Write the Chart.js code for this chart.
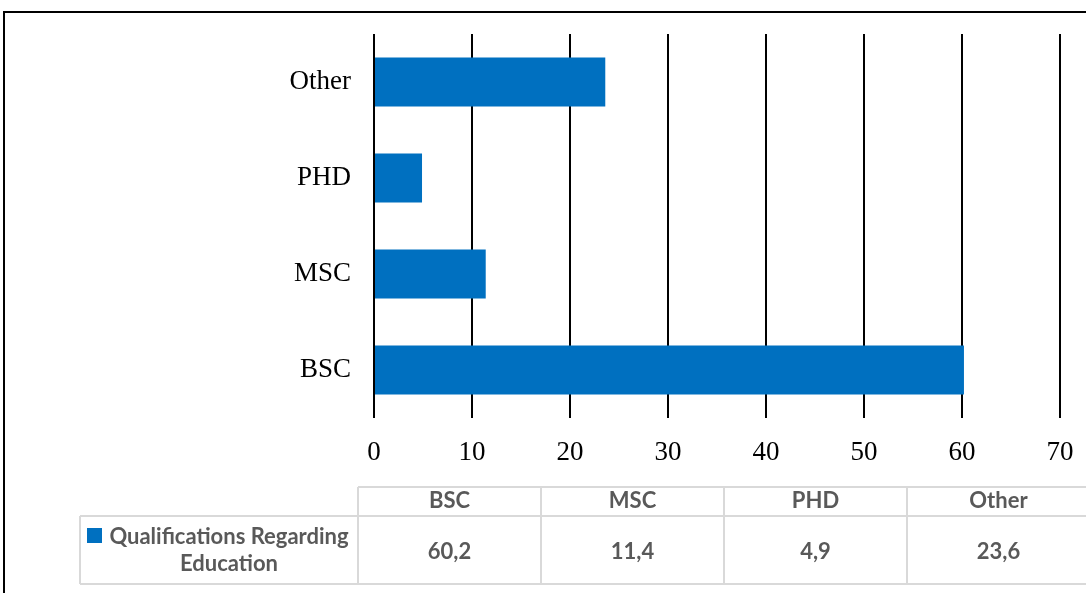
<!DOCTYPE html>
<html>
<head>
<meta charset="utf-8">
<script src="https://cdn.jsdelivr.net/npm/chart.js@4/dist/chart.umd.min.js"></script>
<style>
  html, body { margin: 0; padding: 0; background: #ffffff; }
  #wrap { width: 1086px; height: 593px; position: relative; }
</style>
</head>
<body>
<div id="wrap"><canvas id="chart" width="1086" height="593"></canvas></div>
<script>
// Education levels and their shares
const categories = ['BSC', 'MSC', 'PHD', 'Other'];
const qualificationValues = [60.2, 11.4, 4.9, 23.6];
const seriesName = 'Qualifications Regarding Education';
const seriesLegendLines = ['Qualifications Regarding', 'Education'];

// Value axis range
const axisMin = 0;
const axisMax = 70;
const axisStep = 10;

const barColor = '#0070C0';
const tableLine = '#d9d9d9';
const tableText = '#595959';

const formatValue = v => v.toFixed(1).replace('.', ',');

// Outer frame drawn behind the chart
const framePlugin = {
  id: 'frame',
  beforeDraw(chart) {
    const ctx = chart.ctx;
    ctx.save();
    ctx.fillStyle = '#ffffff';
    ctx.fillRect(0, 0, chart.width, chart.height);
    ctx.strokeStyle = '#000000';
    ctx.lineWidth = 2;
    ctx.beginPath();
    ctx.moveTo(chart.width, 12);
    ctx.lineTo(4, 12);
    ctx.lineTo(4, chart.height);
    ctx.stroke();
    ctx.restore();
  }
};

// Data table under the value axis
const dataTablePlugin = {
  id: 'dataTable',
  afterDraw(chart) {
    const ctx = chart.ctx;
    const ds = chart.data.datasets[0];
    const labels = chart.data.labels;
    const legendLeft = 80;
    const tableLeft = 358;
    const colW = 183;
    const headTop = 487;
    const rowTop = 516;
    const tableBottom = 584;
    const right = tableLeft + colW * labels.length;

    ctx.save();
    ctx.strokeStyle = tableLine;
    ctx.lineWidth = 2;
    ctx.beginPath();
    ctx.moveTo(tableLeft, headTop); ctx.lineTo(right, headTop);
    ctx.moveTo(legendLeft, rowTop); ctx.lineTo(right, rowTop);
    ctx.moveTo(legendLeft, tableBottom); ctx.lineTo(right, tableBottom);
    ctx.moveTo(legendLeft, rowTop); ctx.lineTo(legendLeft, tableBottom);
    for (let i = 0; i <= labels.length; i++) {
      const x = tableLeft + colW * i;
      ctx.moveTo(x, headTop); ctx.lineTo(x, tableBottom);
    }
    ctx.stroke();

    ctx.fillStyle = tableText;
    ctx.font = 'bold 22px Lato';
    ctx.textAlign = 'center';
    ctx.textBaseline = 'middle';
    labels.forEach((lab, i) => {
      const cx = tableLeft + colW * i + colW / 2;
      ctx.fillText(lab, cx, 501);
      ctx.fillText(formatValue(ds.data[i]), cx, 552);
    });

    // series key and name
    const textCx = 229;
    ctx.fillText(seriesLegendLines[0], textCx, 537);
    ctx.fillText(seriesLegendLines[1], textCx, 564);
    ctx.fillStyle = ds.backgroundColor;
    ctx.fillRect(87, 528, 15, 15);
    ctx.restore();
  }
};

new Chart(document.getElementById('chart'), {
  type: 'bar',
  data: {
    labels: categories,
    datasets: [{
      label: seriesName,
      data: qualificationValues,
      backgroundColor: barColor,
      borderWidth: 0,
      categoryPercentage: 0.51,
      barPercentage: 1
    }]
  },
  options: {
    indexAxis: 'y',
    responsive: false,
    animation: false,
    devicePixelRatio: 1,
    layout: { padding: { left: 0, top: 34, right: 26, bottom: 0 } },
    plugins: {
      legend: { display: false },
      tooltip: { enabled: false }
    },
    scales: {
      x: {
        min: axisMin,
        max: axisMax,
        ticks: {
          stepSize: axisStep,
          color: '#000000',
          font: { family: 'Liberation Serif', size: 27 },
          padding: 19
        },
        grid: { color: '#000000', lineWidth: 2, drawTicks: false },
        border: { display: false },
        afterFit(scale) {
          scale.height = 175;
          scale.paddingLeft = 0;
          scale.paddingRight = 0;
        }
      },
      y: {
        reverse: true,
        ticks: {
          color: '#000000',
          font: { family: 'Liberation Serif', size: 27 },
          padding: 23
        },
        grid: { display: false, drawTicks: false },
        border: { display: false },
        afterFit(scale) {
          scale.width = 374;
          scale.paddingTop = 0;
          scale.paddingBottom = 0;
        }
      }
    }
  },
  plugins: [framePlugin, dataTablePlugin]
});
</script>
</body>
</html>
